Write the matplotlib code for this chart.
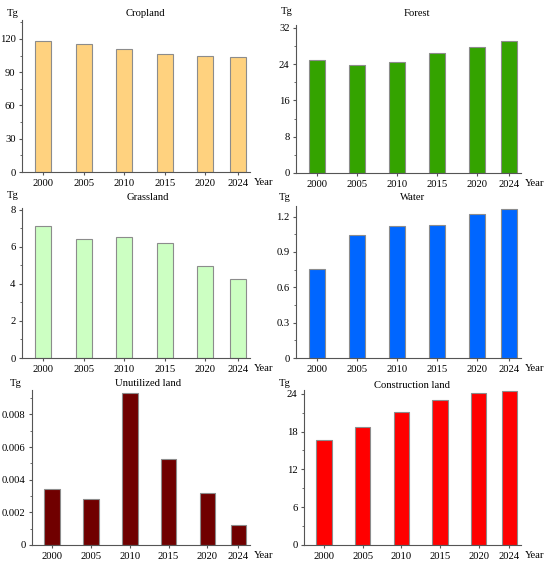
import matplotlib
matplotlib.use("Agg")
import matplotlib.pyplot as plt
from matplotlib.ticker import MultipleLocator, FuncFormatter, AutoMinorLocator

plt.rcParams['font.family'] = ['Liberation Serif', 'DejaVu Serif']
FS = 7.7

years = [2000, 2005, 2010, 2015, 2020, 2024]

cropland = [118.0, 115.2, 110.7, 106.7, 104.9, 103.5]
forest = [24.8, 23.7, 24.4, 26.5, 27.7, 29.1]
grassland = [7.12, 6.45, 6.52, 6.23, 4.95, 4.25]
water = [0.753, 1.041, 1.124, 1.132, 1.226, 1.265]
unutilized = [0.00345, 0.00279, 0.00929, 0.00527, 0.00316, 0.00121]
construction = [16.65, 18.65, 21.03, 22.94, 24.2, 24.5]

titles = ["Cropland", "Forest", "Grassland", "Water", "Unutilized land", "Construction land"]
series = [cropland, forest, grassland, water, unutilized, construction]
colors = ["#FFD27F", "#34A300", "#CCFFC2", "#0066FF", "#700000", "#FF0000"]
ymax = [137, 32.6, 8.1, 1.29, 0.0095, 24.6]
ystep = [30, 8, 2, 0.3, 0.002, 6]

# axes boxes in pixels: left, right, top, bottom
boxes = [(22, 250, 20, 172), (296, 521, 25, 173),
         (22, 250, 208, 358), (296, 521, 206, 358),
         (32, 250, 390, 545), (304, 521, 390, 545)]
# text centres in pixels
tg_pos = [(13, 14), (287, 11), (13, 196), (285, 198), (16, 384), (285, 383)]
title_pos = [(145, 13), (417, 13), (148, 198), (413, 198), (148, 384), (412, 386)]

W, H = 550, 562
fig = plt.figure(figsize=(W / 100, H / 100), dpi=100)

for i in range(6):
    l, r, t, b = boxes[i]
    ax = fig.add_axes([l / W, 1 - b / H, (r - l) / W, (b - t) / H])
    ax.bar(years, series[i], width=2, color=colors[i], edgecolor="#8c8c8c", linewidth=0.8)
    ax.set_xlim(1997.4, 2025.5)
    ax.set_ylim(0, ymax[i])
    ax.set_xticks(years)
    ax.yaxis.set_major_locator(MultipleLocator(ystep[i]))
    ax.yaxis.set_minor_locator(AutoMinorLocator(2))
    ax.yaxis.set_major_formatter(FuncFormatter(lambda v, p: "{:g}".format(round(v, 6))))
    for s in ["top", "right"]:
        ax.spines[s].set_visible(False)
    for s in ["left", "bottom"]:
        ax.spines[s].set_color("#555555")
        ax.spines[s].set_linewidth(0.8)
    ax.tick_params(direction="out", length=2.5, width=0.8, color="#555555", pad=2.2, labelsize=FS)
    ax.tick_params(which="minor", length=1.6, width=0.6, color="#555555")
    fig.text(title_pos[i][0] / W, 1 - title_pos[i][1] / H, titles[i], ha="center", va="center", fontsize=FS)
    fig.text(tg_pos[i][0] / W, 1 - tg_pos[i][1] / H, "Tg", ha="center", va="center", fontsize=FS)
    ax.annotate("Year", xy=(1, 0), xycoords="axes fraction", xytext=(3, -7.3),
                textcoords="offset points", ha="left", va="center", fontsize=FS)

fig.savefig("out.png", dpi=100)
